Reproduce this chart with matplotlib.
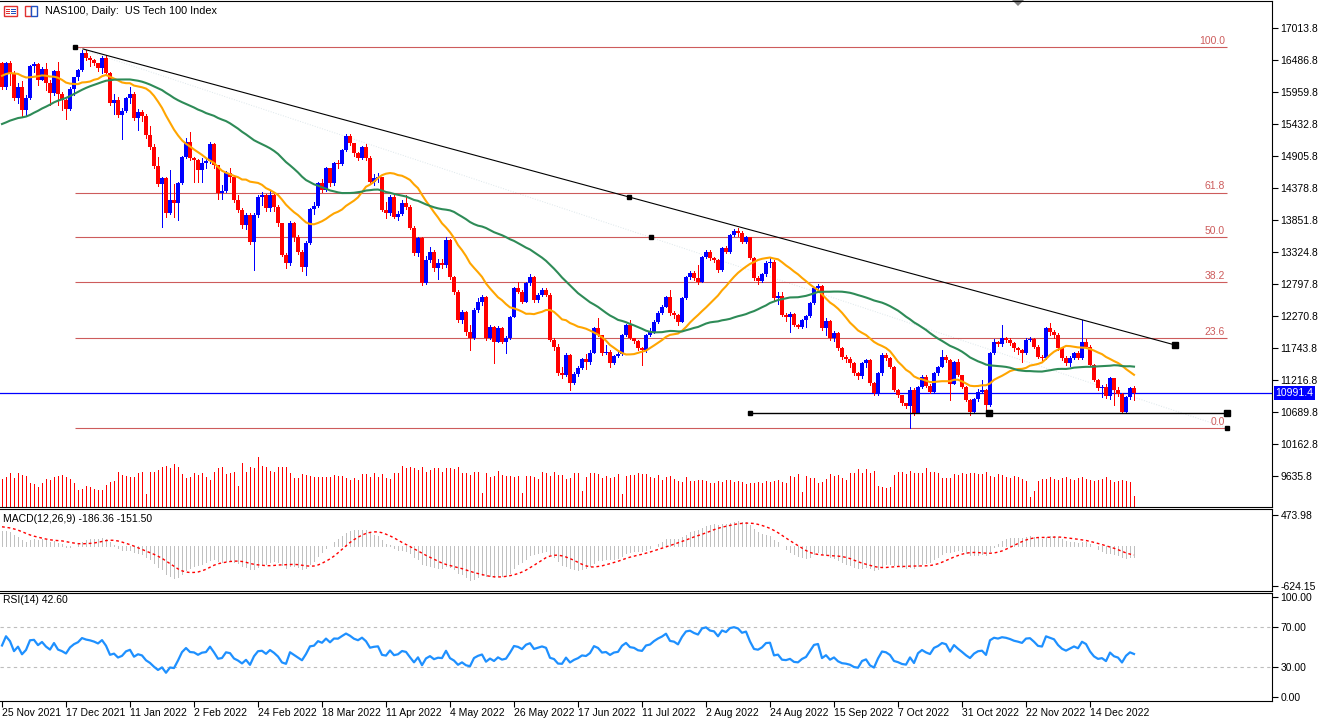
import numpy as np
import pandas as pd
import matplotlib
matplotlib.use("Agg")
import matplotlib.pyplot as plt
from matplotlib.patches import Rectangle, Polygon

plt.rcParams['font.family'] = ['Liberation Sans', 'DejaVu Sans']
plt.rcParams['font.size'] = 7.5

# time axis labels, one every 16 bars
date_labels = ['25 Nov 2021', '17 Dec 2021', '11 Jan 2022', '2 Feb 2022', '24 Feb 2022',
               '18 Mar 2022', '11 Apr 2022', '4 May 2022', '26 May 2022', '17 Jun 2022',
               '11 Jul 2022', '2 Aug 2022', '24 Aug 2022', '15 Sep 2022', '7 Oct 2022',
               '31 Oct 2022', '22 Nov 2022', '14 Dec 2022']
label_every = 16

# closes before the visible window (only used to warm up MAs, MACD, RSI)
warmup_close = [15600, 15600, 15650, 15680, 15620, 15550, 15360, 15340, 15300, 15430,
                15450, 15120, 14800, 14810, 14950, 15130, 15160, 15030, 14600, 14560,
                14450, 14570, 14250, 14440, 14530, 14680, 14580, 14490, 14450, 14590,
                14870, 14980, 15120, 15230, 15240, 15330, 15200, 15350, 15400, 15420,
                15600, 15850, 15940, 15990, 16180, 16340, 16350, 16330, 16230, 15990,
                16050, 16210, 16200, 16330, 16300, 16500, 16570, 16350, 16300, 16380]

# daily bars, open = previous close
first_open = 16427
close = [16043, 16427, 16262, 15851, 16043, 15658, 15851, 16383, 16410, 16152,
         16334, 16097, 15933, 16300, 15922, 15823, 15675, 16000, 16196, 16317,
         16592, 16520, 16482, 16427, 16345, 16520, 16273, 15768, 15823, 15576,
         15648, 15851, 15922, 15521, 15631, 15560, 15247, 15055, 14741, 14434,
         14533, 13957, 14176, 14121, 14451, 14890, 15137, 14863, 14835, 14670,
         14780, 14810, 15093, 14752, 14286, 14320, 14615, 14560, 14176, 14011,
         13764, 13929, 13490, 13929, 14231, 14258, 14039, 14258, 14066, 13792,
         13270, 13133, 13803, 13572, 13325, 13078, 13462, 14022, 14077, 14451,
         14341, 14698, 14451, 14780, 14770, 15000, 15230, 15109, 14945, 14862,
         15050, 14862, 14478, 14533, 14560, 14011, 13956, 14231, 13902, 13950,
         14122, 14067, 13710, 13298, 13545, 12804, 13188, 13325, 13050, 13133,
         13100, 13518, 12900, 12667, 12200, 12337, 12008, 11898, 12365, 12502,
         12584, 11898, 12090, 11843, 12063, 11843, 11900, 12255, 12722, 12660,
         12502, 12804, 12914, 12530, 12610, 12694, 12610, 11871, 11761, 11322,
         11300, 11624, 11168, 11310, 11404, 11552, 11510, 11662, 12063, 11953,
         11651, 11680, 11487, 11607, 11640, 11953, 12118, 11898, 11860, 11733,
         11700, 11953, 12000, 12172, 12310, 12420, 12584, 12310, 12280, 12172,
         12557, 12914, 12969, 12886, 12831, 13243, 13325, 13216, 13190, 13023,
         13380, 13325, 13600, 13666, 13627, 13490, 13560, 13216, 12886, 12850,
         12950, 13144, 13160, 12557, 12590, 12282, 12255, 12300, 12117, 12090,
         12200, 12265, 12475, 12721, 12760, 12063, 12183, 11898, 11990, 11733,
         11596, 11560, 11486, 11321, 11270, 11486, 11541, 11157, 10992, 11321,
         11623, 11580, 11430, 11047, 10960, 10827, 10780, 11047, 10663, 11102,
         11267, 11120, 11020, 11330, 11431, 11596, 11540, 11150, 11500, 11294,
         11102, 10882, 10690, 10900, 11020, 11047, 10800, 11650, 11843, 11800,
         11898, 11870, 11815, 11740, 11700, 11650, 11870, 11890, 11760, 11596,
         11570, 12063, 12008, 11953, 11733, 11570, 11486, 11570, 11650, 11580,
         11843, 11760, 11458, 11212, 11075, 11100, 10940, 11240, 11050, 10980,
         10690, 10937, 11075, 10991.4]
high = [16454, 16443, 16465, 16300, 16098, 16140, 15905, 16400, 16443, 16427,
        16360, 16427, 16152, 16317, 16454, 15960, 15840, 16030, 16200, 16330,
        16647, 16650, 16540, 16500, 16440, 16545, 16565, 16290, 15917, 15878,
        15690, 15870, 16032, 15960, 15670, 15660, 15600, 15400, 15100, 14890,
        14560, 14560, 14670, 14440, 14480, 14900, 15200, 15302, 14880, 14850,
        14862, 14850, 15130, 15110, 14760, 14420, 14650, 14700, 14580, 14250,
        14050, 13960, 13960, 13960, 14260, 14300, 14270, 14330, 14290, 14100,
        13800, 13300, 13830, 13810, 13600, 13350, 13500, 14050, 14150, 14480,
        14520, 14720, 14700, 14800, 14830, 15020, 15260, 15270, 15120, 14960,
        15070, 15100, 14900, 14600, 14620, 14560, 14150, 14250, 14250, 14000,
        14170, 14260, 14090, 13740, 13570, 13560, 13250, 13400, 13360, 13200,
        13210, 13560, 13530, 12920, 12700, 12370, 12350, 12110, 12390, 12560,
        12610, 12600, 12120, 12100, 12100, 12080, 11930, 12270, 12740, 12832,
        12700, 12830, 12950, 12920, 12640, 12720, 12730, 12640, 11900, 11800,
        11420, 11660, 11640, 11340, 11450, 11580, 11640, 11700, 12090, 12233,
        11960, 11788, 11700, 11620, 11680, 11970, 12140, 12200, 11910, 11870,
        11760, 11970, 12060, 12200, 12340, 12440, 12600, 12694, 12340, 12300,
        12580, 12930, 13000, 13000, 13106, 13260, 13345, 13345, 13240, 13200,
        13400, 13420, 13620, 13700, 13720, 13660, 13580, 13570, 13230, 12920,
        12980, 13170, 13230, 13190, 12666, 12666, 12320, 12330, 12310, 12140,
        12220, 12290, 12500, 12740, 12790, 12780, 12240, 12200, 12020, 12000,
        11760, 11620, 11590, 11500, 11340, 11500, 11560, 11560, 11180, 11340,
        11650, 11651, 11590, 11440, 11060, 10970, 10840, 11102, 11080, 11120,
        11290, 11290, 11140, 11340, 11450, 11706, 11620, 11560, 11530, 11560,
        11300, 11110, 10900, 10920, 11060, 11212, 11060, 11680, 11880, 11860,
        12117, 11920, 11900, 11830, 11760, 11720, 11900, 11920, 11900, 11780,
        11620, 12090, 12150, 12030, 11980, 11750, 11600, 11600, 11680, 11690,
        12200, 11880, 11790, 11480, 11230, 11130, 11140, 11260, 11240, 11090,
        11000, 10950, 11090, 11120]
low = [16000, 16010, 16070, 15820, 15768, 15549, 15565, 15834, 16290, 16070,
       16150, 15988, 15741, 15905, 15741, 15658, 15505, 15660, 15905, 16150,
       16300, 16480, 16383, 16400, 16300, 16262, 16250, 15740, 15600, 15540,
       15175, 15630, 15770, 15500, 15329, 15480, 15200, 15010, 14700, 14400,
       13726, 13902, 13950, 13900, 13847, 14440, 14870, 14840, 14478, 14480,
       14478, 14700, 14790, 14700, 14195, 14200, 14300, 14480, 14150, 13980,
       13720, 13700, 13450, 13023, 13900, 14100, 13990, 14000, 14000, 13750,
       13250, 13050, 13100, 13500, 13280, 13000, 12941, 13450, 13950, 14060,
       14300, 14330, 14400, 14430, 14700, 14750, 14980, 15080, 14900, 14830,
       14850, 14840, 14450, 14430, 14470, 13990, 13880, 13930, 13880, 13850,
       13930, 14020, 13690, 13270, 13250, 12780, 12790, 13150, 13000, 12880,
       13050, 13080, 12880, 12620, 12170, 12150, 11950, 11706, 11880, 12330,
       12450, 11870, 11880, 11486, 11830, 11820, 11650, 11880, 12250, 12640,
       12480, 12490, 12780, 12500, 12500, 12590, 12590, 11850, 11700, 11290,
       11250, 11280, 11047, 11150, 11280, 11390, 11400, 11480, 11650, 11930,
       11630, 11640, 11430, 11480, 11590, 11630, 11930, 11880, 11820, 11700,
       11459, 11680, 11930, 11990, 12150, 12300, 12410, 12290, 12240, 12120,
       12160, 12540, 12880, 12860, 12800, 12820, 13220, 13180, 13160, 12990,
       13000, 13300, 13310, 13580, 13580, 13470, 13470, 13200, 12860, 12800,
       12830, 12920, 13080, 12530, 12470, 12260, 12180, 12008, 12100, 12063,
       12060, 12090, 12250, 12460, 12700, 12040, 11960, 11870, 11860, 11710,
       11560, 11500, 11430, 11300, 11230, 11250, 11430, 11130, 10960, 10960,
       11300, 11540, 11410, 11030, 10930, 10800, 10750, 10421, 10640, 10660,
       11080, 11100, 10990, 11000, 11300, 11420, 11500, 10882, 11140, 11270,
       11080, 10860, 10640, 10670, 10860, 10990, 10670, 10790, 11640, 11770,
       11770, 11830, 11790, 11690, 11640, 11513, 11640, 11850, 11740, 11570,
       11520, 11560, 11960, 11900, 11710, 11540, 11460, 11450, 11550, 11560,
       11560, 11740, 11440, 11190, 11050, 10937, 10920, 10900, 10800, 10950,
       10668, 10680, 10900, 10890]
# tick volume, thousands
volume = [28, 30, 34, 29, 34, 32, 31, 24, 23, 20, 24, 28, 27, 30, 31, 32, 30, 28,
          24, 17, 18, 21, 20, 18, 17, 17, 22, 25, 26, 35, 32, 31, 30, 30, 34, 35,
          13, 35, 35, 37, 40, 41, 39, 43, 40, 33, 29, 30, 34, 32, 34, 30, 27, 35, 39,
          40, 33, 34, 35, 21, 44, 35, 40, 39, 50, 41, 40, 36, 35, 40, 40, 40, 34, 29, 29,
          33, 32, 31, 30, 30, 30, 30, 30, 32, 31, 31, 29, 27, 29, 27, 33, 33,
          30, 34, 30, 33, 29, 28, 34, 34, 41, 39, 40, 39, 37, 40, 35, 37, 39, 39,
          35, 39, 39, 38, 40, 34, 34, 32, 35, 35, 14, 34, 30, 31, 36, 32, 31,
          31, 30, 31, 14, 31, 31, 30, 28, 35, 34, 31, 35, 32, 32, 28, 29, 34, 34, 16,
          30, 34, 34, 33, 29, 31, 29, 30, 33, 13, 31, 32, 32, 34, 33, 33, 30, 29, 32,
          27, 30, 31, 28, 26, 25, 30, 26, 26, 27, 27, 26, 24, 24, 26, 25, 27, 27, 25,
          26, 25, 23, 24, 24, 25, 24, 26, 25, 26, 27, 25, 24, 31, 30, 33, 15,
          31, 29, 29, 24, 25, 28, 33, 31, 32, 29, 27, 34, 34, 38, 34, 38, 34, 36,
          21, 20, 19, 20, 32, 35, 35, 33, 36, 34, 34, 34, 39, 35, 35, 34, 29, 29, 29,
          33, 32, 34, 33, 34, 34, 33, 33, 35, 31, 30, 33, 32, 30, 29, 31, 30, 28, 26,
          10, 16, 26, 28, 28, 30, 28, 27, 29, 30, 28, 27, 29, 30,
          28, 27, 26, 27, 28, 30, 27, 25, 26, 27, 26, 25, 11]

# objects drawn on the chart (bar position, price)
fib_high, fib_low = 16696, 10421
fib_levels = [0.0, 23.6, 38.2, 50.0, 61.8, 100.0]
fib_from, fib_to = 18.25, 306.25
trend_from = (20.25, 16663)
trend_to = (293.25, 11788)
support_price = 10668
support_from, support_to = 187, 306.25
last_price = 10991.4

price_ticks = [17013.8, 16486.8, 15959.8, 15432.8, 14905.8, 14378.8, 13851.8, 13324.8,
               12797.8, 12270.8, 11743.8, 11216.8, 10689.8, 10162.8, 9635.8]
macd_ticks = [473.98, -624.15]
rsi_ticks = [100, 70, 30, 0]

# ---- indicators ----
full = pd.Series(warmup_close + close, dtype=float)
n0 = len(warmup_close)
ma_fast = full.rolling(20).mean().iloc[n0:].values
ma_slow = full.rolling(50).mean().iloc[n0:].values
macd = full.ewm(span=12, adjust=False).mean() - full.ewm(span=26, adjust=False).mean()
signal = macd.rolling(9).mean()
macd, signal = macd.iloc[n0:].values, signal.iloc[n0:].values
delta = full.diff()
gain = delta.clip(lower=0).ewm(alpha=1 / 14, adjust=False).mean()
loss = (-delta.clip(upper=0)).ewm(alpha=1 / 14, adjust=False).mean()
rsi = (100 - 100 / (1 + gain / loss)).iloc[n0:].values

c = np.array(close, dtype=float)
o = np.r_[first_open, c[:-1]]
h = np.array(high, dtype=float)
l = np.array(low, dtype=float)
x = np.arange(len(c))

# ---- layout in pixels ----
W, H = 1324, 721
fig = plt.figure(figsize=(W / 100, H / 100), dpi=100)
fig.patch.set_facecolor('white')
one_px = 0.72  # line width of one pixel, in points


def panel(x0, y0, x1, y1):
    return fig.add_axes([x0 / W, 1 - y1 / H, (x1 - x0) / W, (y1 - y0) / H])


def fig_rect(x0, y0, w, hh, **kw):
    fig.add_artist(Rectangle((x0 / W, 1 - (y0 + hh) / H), w / W, hh / H,
                             transform=fig.transFigure, **kw))


xlim = (-0.5, 317.5)

vol_ax = panel(0, 1, 1272, 507)
ax = panel(0, 1, 1272, 507)
mac = panel(0, 509, 1272, 591)
rax = panel(0, 593, 1272, 701)

for a in (ax, mac, rax):
    a.set_xlim(*xlim)
    a.spines['left'].set_visible(False)
    for s in ('top', 'bottom', 'right'):
        a.spines[s].set_linewidth(0.8)
        a.spines[s].set_color('black')
    a.yaxis.tick_right()
    a.tick_params(axis='y', direction='out', length=4, width=0.8, pad=2,
                  labelsize=7.5, colors='black')
    a.set_xticks([])

# volume under the candles
vol_ax.set_xlim(*xlim)
vol_ax.set_ylim(0, 506)
vol_ax.vlines(x, 0, volume, color='#FF0000', lw=one_px, antialiased=False)
vol_ax.axis('off')
vol_ax.set_zorder(0)
ax.set_zorder(1)
ax.patch.set_alpha(0)

# ---- price panel ----
ax.set_ylim(9120, 17453)
ax.set_yticks(price_ticks)
ax.set_yticklabels([f'{t:.1f}' for t in price_ticks])

col = np.where(c >= o, '#0000FF', '#FF0000')
ax.vlines(x, l, h, colors=col, lw=one_px, zorder=3, antialiased=False)
ax.bar(x, np.maximum(np.abs(c - o), 14), bottom=np.minimum(o, c), width=0.78,
       color=col, lw=0, zorder=3, antialiased=False)

ax.plot(x, ma_fast, color='#FFA500', lw=1.5, zorder=4)
ax.plot(x, ma_slow, color='#2E8B57', lw=1.5, zorder=4)

# fibonacci retracement
fibc = '#CD5C5C'
ax.plot([fib_from, fib_to], [fib_high, fib_low], color='#DCE6EA', lw=0.7, ls=':', zorder=2)
for lev in fib_levels:
    p = fib_low + (fib_high - fib_low) * lev / 100
    ax.hlines(p, fib_from, fib_to, color=fibc, lw=0.8, zorder=2)
    ax.text(fib_to - 0.5, p + 20, f'{lev:.1f}', color=fibc, fontsize=7.5,
            ha='right', va='bottom', zorder=5)
ax.plot([fib_from, fib_to], [fib_high, fib_low], 's', color='black', ms=2.2, zorder=6)
ax.plot((fib_from + fib_to) / 2, fib_low + (fib_high - fib_low) * 0.5, 's',
        color='black', ms=2.2, zorder=6)

# trend line
ax.plot([trend_from[0], trend_to[0]], [trend_from[1], trend_to[1]], color='black', lw=0.8, zorder=5)
ax.plot((trend_from[0] + trend_to[0]) / 2, (trend_from[1] + trend_to[1]) / 2, 's',
        color='black', ms=3, zorder=6)
ax.plot(trend_to[0], trend_to[1], 's', color='black', ms=4.5, zorder=6)

# horizontal support
ax.hlines(support_price, support_from, support_to, color='black', lw=1.0, zorder=5)
ax.plot(support_from, support_price, 's', color='black', ms=2.5, zorder=6)
ax.plot([(support_from + support_to) / 2, support_to], [support_price] * 2, 's',
        color='black', ms=4.5, zorder=6)

# last price line and label
ax.axhline(last_price, color='#0000FF', lw=0.9, zorder=2)
ax.annotate(f'{last_price}', xy=(1, last_price), xycoords=('axes fraction', 'data'),
            xytext=(2.5, 0), textcoords='offset points', va='center', ha='left',
            color='white', fontsize=7.5, annotation_clip=False, zorder=10,
            bbox=dict(boxstyle='square,pad=0.18', fc='#0000FF', ec='none'))

# ---- MACD panel ----
mac.set_ylim(-706, 567)
mac.vlines(x, 0, macd, color='#C0C0C0', lw=one_px, antialiased=False)
mac.plot(x, signal, color='#FF0000', lw=1.0, ls=(0, (2, 2)))
mac.set_yticks(macd_ticks)
mac.set_yticklabels([f'{t:.2f}' for t in macd_ticks])

# ---- RSI panel ----
rax.set_ylim(-4, 104)
for lv in (70, 30):
    rax.axhline(lv, color='#BDBDBD', lw=0.8, ls=(0, (3, 3)))
rax.plot(x, rsi, color='#1E90FF', lw=1.6)
rax.set_yticks(rsi_ticks)
rax.set_yticklabels([f'{t:.2f}' for t in rsi_ticks])
rax.set_xticks(np.arange(0, len(c), label_every))
rax.set_xticklabels(date_labels, ha='left')
rax.tick_params(axis='x', direction='out', length=4, width=0.8, pad=1, labelsize=7.5)

# ---- texts and small decorations ----
fig.text(45 / W, 1 - 11 / H, 'NAS100, Daily:  US Tech 100 Index', va='center', fontsize=7.8)
fig.text(3 / W, 1 - 519 / H, 'MACD(12,26,9) -186.36 -151.50', va='center', fontsize=7.5)
fig.text(3 / W, 1 - 600 / H, 'RSI(14) 42.60', va='center', fontsize=7.5)

# window icons
fig_rect(4, 6, 13, 10, fc='white', ec='#E03030', lw=1.0)
for yy in (8.5, 10.7, 12.9):
    fig_rect(6, yy, 3.5, 1.0, fc='#E03030', ec='none')
    fig_rect(11, yy, 4.5, 1.0, fc='#2050C0', ec='none')
fig_rect(25, 6, 6, 10, fc='white', ec='#E03030', lw=1.0)
fig_rect(31, 6, 6, 10, fc='white', ec='#2050C0', lw=1.0)

# chart shift marker
fig.add_artist(Polygon([[1012 / W, 1], [1024 / W, 1], [1018 / W, 1 - 6 / H]], closed=True,
                       transform=fig.transFigure, fc='#808080', ec='none'))

fig.savefig('out.png', dpi=100, facecolor='white')
